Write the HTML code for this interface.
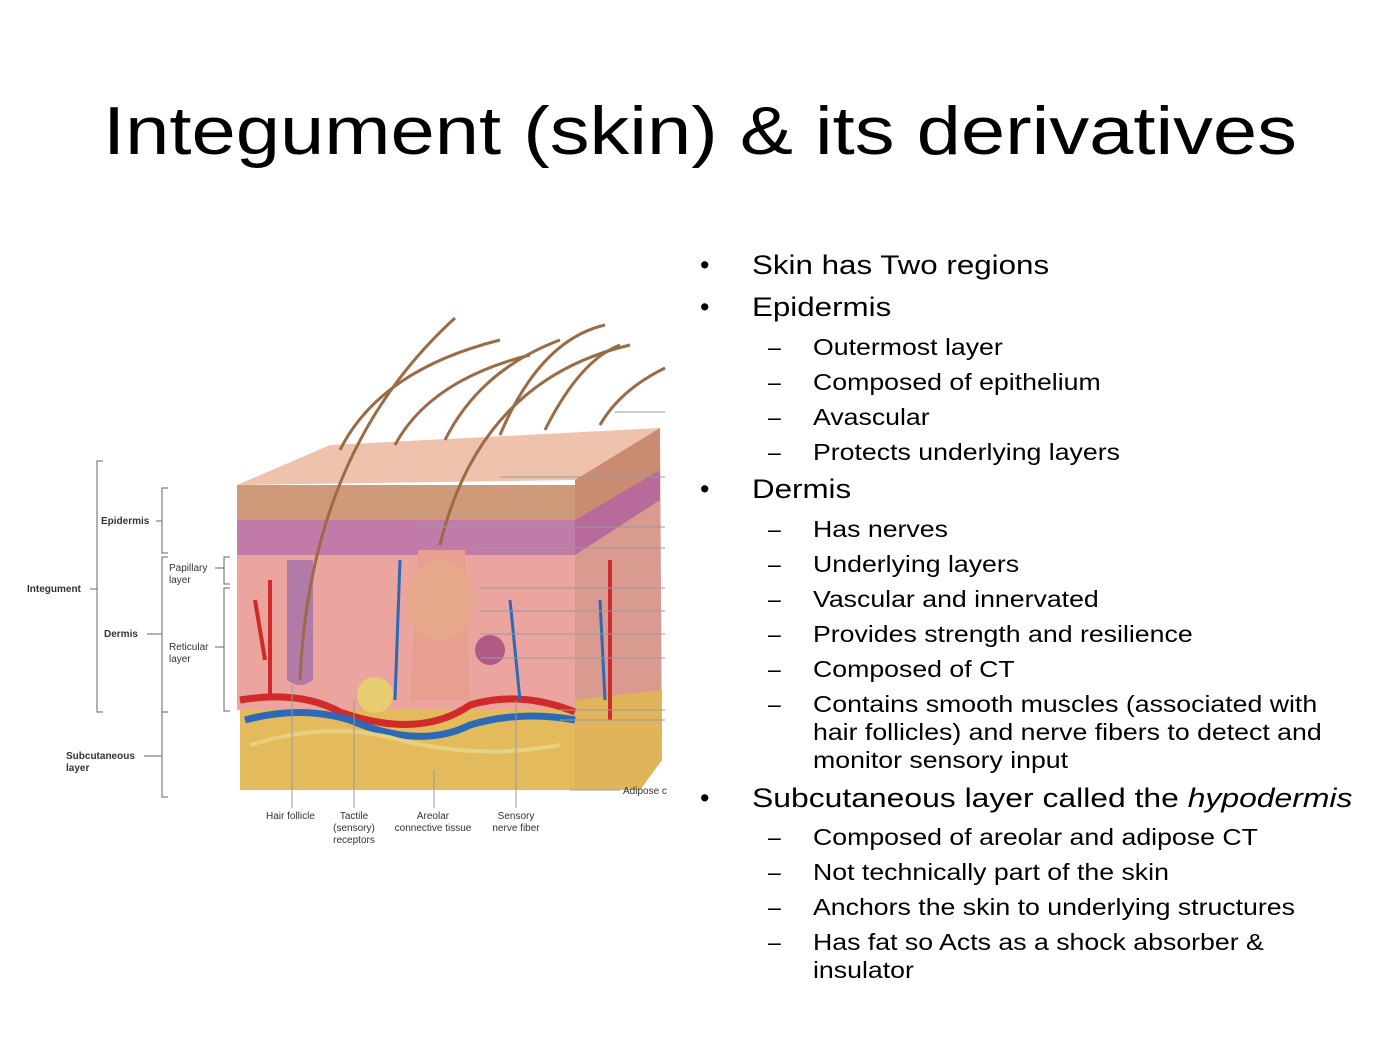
<!DOCTYPE html>
<html><head><meta charset="utf-8"><style>
body{margin:0;background:#fff;width:1400px;height:1050px;overflow:hidden;position:relative;font-family:"Liberation Sans",Arial,sans-serif}
.t{position:absolute;left:0;width:1400px;top:92px;text-align:center;font-size:68px;color:#000;white-space:nowrap;transform:scaleX(1.17);transform-origin:700px 0}
.b{position:absolute;left:700px;font-size:27px;color:#000;white-space:nowrap}
.b span{position:absolute;left:0}
.b div{position:absolute;left:52px;transform:scaleX(1.16);transform-origin:0 0}
.s{position:absolute;left:768px;font-size:23px;color:#000;white-space:nowrap;line-height:28px}
.s span{position:absolute;left:0}
.s div{position:absolute;left:45px;transform:scaleX(1.16);transform-origin:0 0}
</style></head><body>
<div class="t">Integument (skin) &amp; its derivatives</div>
<svg width="700" height="900" style="position:absolute;left:0;top:0" font-family="Liberation Sans, Arial, sans-serif">
<polygon points="237,485 330,445 660,428 575,480" fill="#efc2ad"/>
<polygon points="575,480 660,428 662,760 640,790 575,790" fill="#d99a90"/>
<polygon points="575,480 660,428 660,470 575,520" fill="#c98c72"/>
<polygon points="575,520 660,470 660,500 575,555" fill="#b86a9a"/>
<polygon points="575,700 662,690 662,760 640,790 575,790" fill="#e0b45a"/>
<rect x="237" y="485" width="338" height="35" fill="#cf9a7a"/>
<rect x="237" y="520" width="338" height="40" fill="#c27aa8"/>
<rect x="237" y="555" width="338" height="155" fill="#eba49e"/>
<rect x="240" y="710" width="335" height="80" fill="#e3bb5c"/>
<path d="M240,700 Q300,690 340,712 Q420,740 470,705 Q520,690 575,712" stroke="#d02a2a" stroke-width="7" fill="none"/>
<path d="M245,720 Q300,705 350,720 Q420,750 470,725 Q520,710 575,720" stroke="#2c6ab8" stroke-width="7" fill="none"/>
<path d="M250,745 Q330,720 400,740 Q480,760 560,745" stroke="#e8d080" stroke-width="4" fill="none"/>
<path d="M270,580 L270,700 M255,600 L265,660 M610,560 L610,720" stroke="#d02a2a" stroke-width="4" fill="none"/>
<path d="M400,560 L395,700 M510,600 L520,700 M600,600 L605,700" stroke="#2c6ab8" stroke-width="3" fill="none"/>
<path d="M287,560 L287,680 Q300,690 313,680 L313,560 Z" fill="#b27aa8"/>
<path d="M418,550 L410,700 L470,700 L465,550 Z" fill="#e7a090"/>
<ellipse cx="440" cy="600" rx="35" ry="40" fill="#e8a88c"/>
<circle cx="375" cy="695" r="18" fill="#e8cc70"/>
<circle cx="490" cy="650" r="15" fill="#b25a86"/>
<g stroke="#9b6b45" stroke-width="3" fill="none">
<path d="M300,680 Q310,450 455,318"/>
<path d="M440,545 Q480,380 630,345"/>
<path d="M340,450 Q380,370 500,340"/>
<path d="M395,445 Q430,380 530,355"/>
<path d="M445,440 Q480,370 560,340"/>
<path d="M500,435 Q540,340 605,325"/>
<path d="M545,430 Q580,360 620,345"/>
<path d="M600,425 Q620,390 665,368"/>
</g>
<g stroke="#999" stroke-width="1">
<line x1="615" y1="412" x2="665" y2="412"/><line x1="500" y1="477" x2="665" y2="477"/>
<line x1="413" y1="527" x2="665" y2="527"/><line x1="475" y1="548" x2="665" y2="548"/>
<line x1="480" y1="588" x2="665" y2="588"/><line x1="480" y1="611" x2="665" y2="611"/>
<line x1="480" y1="634" x2="665" y2="634"/><line x1="480" y1="658" x2="665" y2="658"/>
<line x1="560" y1="710" x2="665" y2="710"/><line x1="560" y1="720" x2="665" y2="720"/>
<line x1="570" y1="790" x2="620" y2="790"/>
<line x1="292" y1="685" x2="292" y2="808"/><line x1="354" y1="700" x2="354" y2="808"/>
<line x1="434" y1="770" x2="434" y2="808"/><line x1="516" y1="700" x2="516" y2="808"/>
</g>
<g stroke="#666" stroke-width="1" fill="none">
<path d="M103,461 H97 V712 H103"/><path d="M97,589 H90"/>
<path d="M168,488 H162 V553 H168"/><path d="M162,521 H156"/>
<path d="M168,557 H162 V712 H168"/><path d="M162,634 H147"/>
<path d="M168,712 H162 V797 H168"/><path d="M162,756 H144"/>
<path d="M230,557 H224 V584 H230"/><path d="M224,568 H215"/>
<path d="M230,588 H224 V711 H230"/><path d="M224,647 H215"/>
</g>
<g font-size="10" fill="#333">
<text x="101" y="524" font-weight="bold">Epidermis</text>
<text x="27" y="592" font-weight="bold">Integument</text>
<text x="104" y="637" font-weight="bold">Dermis</text>
<text x="66" y="759" font-weight="bold">Subcutaneous</text>
<text x="66" y="771" font-weight="bold">layer</text>
<text x="169" y="571">Papillary</text><text x="169" y="583">layer</text>
<text x="169" y="650">Reticular</text><text x="169" y="662">layer</text>
<text x="266" y="819">Hair follicle</text>
<text x="354" y="819" text-anchor="middle">Tactile</text>
<text x="354" y="831" text-anchor="middle">(sensory)</text>
<text x="354" y="843" text-anchor="middle">receptors</text>
<text x="433" y="819" text-anchor="middle">Areolar</text>
<text x="433" y="831" text-anchor="middle">connective tissue</text>
<text x="516" y="819" text-anchor="middle">Sensory</text>
<text x="516" y="831" text-anchor="middle">nerve fiber</text>
<text x="623" y="794">Adipose c</text>
</g>
</svg>
<div class="b" style="top:250px"><span>•</span><div>Skin has Two regions</div></div>
<div class="b" style="top:292px"><span>•</span><div>Epidermis</div></div>
<div class="s" style="top:333px"><span>–</span><div>Outermost layer</div></div>
<div class="s" style="top:368px"><span>–</span><div>Composed of epithelium</div></div>
<div class="s" style="top:403px"><span>–</span><div>Avascular</div></div>
<div class="s" style="top:438px"><span>–</span><div>Protects underlying layers</div></div>
<div class="b" style="top:474px"><span>•</span><div>Dermis</div></div>
<div class="s" style="top:515px"><span>–</span><div>Has nerves</div></div>
<div class="s" style="top:550px"><span>–</span><div>Underlying layers</div></div>
<div class="s" style="top:585px"><span>–</span><div>Vascular and innervated</div></div>
<div class="s" style="top:620px"><span>–</span><div>Provides strength and resilience</div></div>
<div class="s" style="top:655px"><span>–</span><div>Composed of CT</div></div>
<div class="s" style="top:690px"><span>–</span><div>Contains smooth muscles (associated with<br>hair follicles) and nerve fibers to detect and<br>monitor sensory input</div></div>
<div class="b" style="top:783px"><span>•</span><div style="transform:scaleX(1.18)">Subcutaneous layer called the <i>hypodermis</i></div></div>
<div class="s" style="top:823px"><span>–</span><div>Composed of areolar and adipose CT</div></div>
<div class="s" style="top:858px"><span>–</span><div>Not technically part of the skin</div></div>
<div class="s" style="top:893px"><span>–</span><div>Anchors the skin to underlying structures</div></div>
<div class="s" style="top:928px"><span>–</span><div>Has fat so Acts as a shock absorber &amp;<br>insulator</div></div>
</body></html>
